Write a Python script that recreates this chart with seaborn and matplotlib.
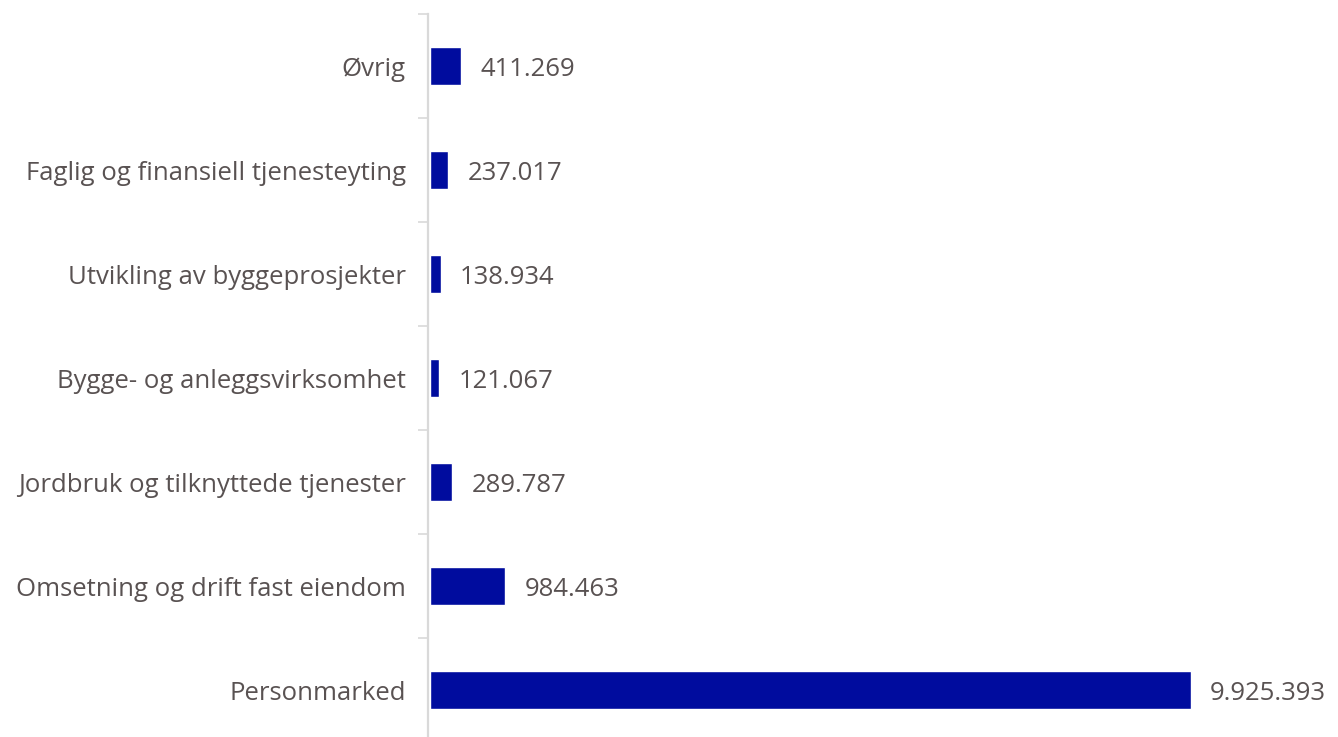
import matplotlib
matplotlib.use('Agg')
import matplotlib.pyplot as plt
import seaborn as sns
import pandas as pd

# Data
kategorier = ['Øvrig', 'Faglig og finansiell tjenesteyting', 'Utvikling av byggeprosjekter',
              'Bygge- og anleggsvirksomhet', 'Jordbruk og tilknyttede tjenester',
              'Omsetning og drift fast eiendom', 'Personmarked']
verdier = [411269, 237017, 138934, 121067, 289787, 984463, 9925393]

df = pd.DataFrame({'kategori': kategorier, 'verdi': verdier})

sns.set_style('white')
plt.rcParams['font.family'] = ['Open Sans', 'DejaVu Sans']

tekstfarge = '#595252'
bar_farge = '#000c9e'
linjefarge = '#d9d9d9'

fig = plt.figure(figsize=(13.38, 7.37), dpi=100)
ax = fig.add_axes([428 / 1338, 1 - 742 / 737, 1 - 428 / 1338, (742 - 14) / 737])

sns.barplot(data=df, x='verdi', y='kategori', orient='h', color=bar_farge,
            width=0.36, saturation=1, ax=ax)

ax.set_xlim(-25000, 11.85e6)
ax.set_ylim(len(kategorier) - 0.5, -0.5)

# verdier ved siden av søylene
for i, v in enumerate(verdier):
    ax.annotate(f'{v:,}'.replace(',', '.'), xy=(v, i), xytext=(14, 0),
                textcoords='offset points', va='center_baseline', ha='left',
                fontsize=18.5, color=tekstfarge)

for s in ['top', 'right', 'bottom']:
    ax.spines[s].set_visible(False)
ax.spines['left'].set_color(linjefarge)
ax.spines['left'].set_linewidth(1.6)

ax.set_xticks([])
ax.set_xlabel('')
ax.set_ylabel('')
ax.set_yticks([i - 0.5 for i in range(len(kategorier) + 1)], minor=True)
ax.tick_params(axis='y', which='minor', length=7, width=1.2, color=linjefarge, left=True)
ax.tick_params(axis='y', which='major', length=0, pad=16, labelsize=18.5, labelcolor=tekstfarge)
for lbl in ax.get_yticklabels():
    lbl.set_verticalalignment('center_baseline')

fig.savefig('out.png', dpi=100)
